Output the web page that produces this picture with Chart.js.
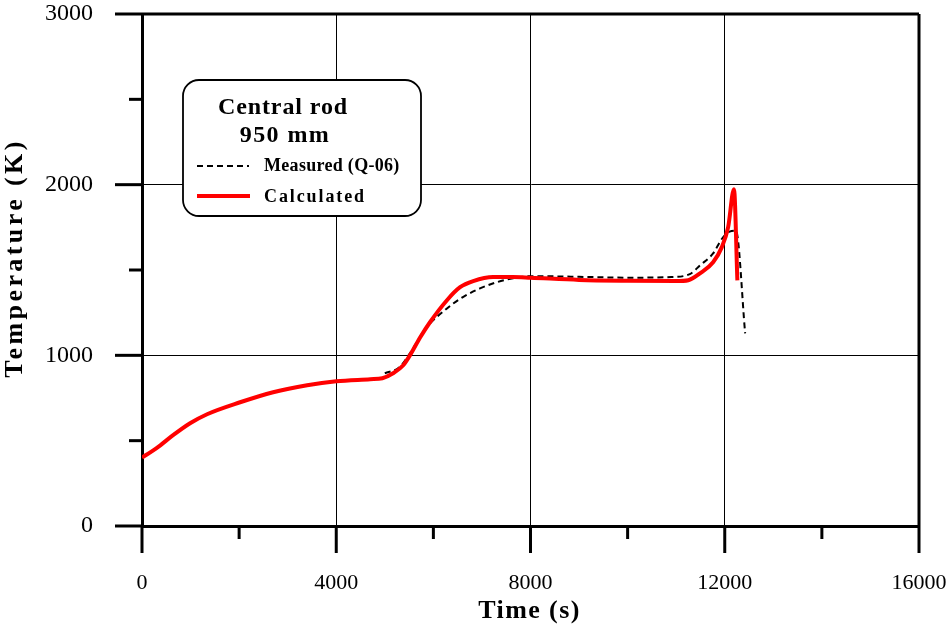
<!DOCTYPE html>
<html>
<head>
<meta charset="utf-8">
<title>Central rod 950 mm</title>
<script src="https://cdn.jsdelivr.net/npm/chart.js@4/dist/chart.umd.min.js"></script>
<style>
  body { margin: 0; background: #fff; }
  #wrap { width: 946px; height: 628px; }
</style>
</head>
<body>
<div id="wrap"><canvas id="tempChart" width="946" height="628"></canvas></div>
<script>
// Datos
const calcTime = [0, 300, 640, 990, 1340, 2020, 2700, 3400, 4000, 4700, 4950, 5170, 5380, 5520, 5730, 5930, 6280, 6550, 6820, 7230, 7640, 8000, 9000, 10000, 11000, 11250, 11490, 11760, 11940, 12070, 12190, 12260];
const calcTemp = [401, 456, 532, 602, 655, 725, 784, 825, 848, 860, 866, 895, 942, 1001, 1106, 1194, 1323, 1399, 1435, 1459, 1459, 1455, 1442, 1437, 1435, 1440, 1480, 1545, 1634, 1751, 1973, 1439];

const measTime = [5000, 5300, 5500, 5850, 6280, 6600, 6960, 7300, 7640, 8050, 9000, 10000, 10900, 11280, 11490, 11760, 11950, 12100, 12230, 12420];
const measTemp = [895, 930, 1005, 1160, 1275, 1340, 1392, 1428, 1451, 1464, 1460, 1455, 1459, 1476, 1527, 1597, 1686, 1725, 1730, 1129];

const xTicks = [0, 4000, 8000, 12000, 16000];
const yTicks = [0, 1000, 2000, 3000];

const serif = "'Liberation Serif', 'Times New Roman', serif";

const toPoints = (xs, ys) => xs.map((x, i) => ({ x: x, y: ys[i] }));

// Marco, marcas de ejes, titulos y leyenda
const framePlugin = {
    id: 'frame',
    afterDraw(chart) {
        const ctx = chart.ctx;
        const { left, right, top, bottom } = chart.chartArea;
        const xs = chart.scales.x;
        const ys = chart.scales.y;

        ctx.save();
        ctx.strokeStyle = '#000';
        ctx.lineWidth = 3;
        ctx.lineCap = 'butt';

        // borde superior y derecho
        ctx.beginPath();
        ctx.moveTo(left, top);
        ctx.lineTo(right, top);
        ctx.moveTo(right, top);
        ctx.lineTo(right, bottom);
        ctx.stroke();

        // marcas del eje x
        for (let v = xs.min; v <= xs.max; v += 2000) {
            const px = xs.getPixelForValue(v);
            const len = v % 4000 === 0 ? 27 : 13;
            ctx.beginPath();
            ctx.moveTo(px, bottom);
            ctx.lineTo(px, bottom + len);
            ctx.stroke();
        }
        // marcas del eje y
        for (let v = ys.min; v <= ys.max; v += 500) {
            const py = ys.getPixelForValue(v);
            const len = v % 1000 === 0 ? 27 : 13;
            ctx.beginPath();
            ctx.moveTo(left, py);
            ctx.lineTo(left - len, py);
            ctx.stroke();
        }

        // titulos de ejes
        ctx.fillStyle = '#000';
        ctx.textAlign = 'center';
        ctx.textBaseline = 'middle';
        ctx.font = 'bold 26px ' + serif;
        ctx.letterSpacing = '1.4px';
        ctx.fillText('Time (s)', (left + right) / 2 - 1, 611);

        ctx.save();
        ctx.translate(15, (top + bottom) / 2 - 12);
        ctx.rotate(-Math.PI / 2);
        ctx.letterSpacing = '3.4px';
        ctx.fillText('Temperature (K)', 0, 0);
        ctx.restore();

        // leyenda
        const bx = 183, by = 80, bw = 238, bh = 136, r = 16;
        ctx.lineWidth = 1.8;
        ctx.fillStyle = '#fff';
        ctx.beginPath();
        ctx.roundRect(bx, by, bw, bh, r);
        ctx.fill();
        ctx.stroke();

        ctx.fillStyle = '#000';
        ctx.font = 'bold 24px ' + serif;
        ctx.letterSpacing = '0.9px';
        ctx.fillText('Central rod', 283, 108);
        ctx.letterSpacing = '1.4px';
        ctx.fillText('950 mm', 285, 136);

        const meas = chart.data.datasets[1];
        const calc = chart.data.datasets[0];

        ctx.beginPath();
        ctx.strokeStyle = meas.borderColor;
        ctx.lineWidth = meas.borderWidth;
        ctx.setLineDash(meas.borderDash);
        ctx.moveTo(197, 166);
        ctx.lineTo(249, 166);
        ctx.stroke();
        ctx.setLineDash([]);

        ctx.beginPath();
        ctx.strokeStyle = calc.borderColor;
        ctx.lineWidth = calc.borderWidth;
        ctx.moveTo(197, 196);
        ctx.lineTo(250, 196);
        ctx.stroke();

        ctx.textAlign = 'left';
        ctx.font = 'bold 18px ' + serif;
        ctx.letterSpacing = '0.3px';
        ctx.fillText(meas.label, 264, 166);
        ctx.letterSpacing = '1.9px';
        ctx.fillText(calc.label, 264, 197);

        ctx.restore();
    }
};

const ctxTemp = document.getElementById('tempChart').getContext('2d');
new Chart(ctxTemp, {
    type: 'line',
    data: {
        datasets: [{
            label: 'Calculated',
            data: toPoints(calcTime, calcTemp),
            borderColor: '#ff0000',
            borderWidth: 4,
            pointRadius: 0,
            cubicInterpolationMode: 'monotone',
            order: 0
        }, {
            label: 'Measured (Q-06)',
            data: toPoints(measTime, measTemp),
            borderColor: '#000000',
            borderWidth: 2,
            borderDash: [6, 4],
            pointRadius: 0,
            cubicInterpolationMode: 'monotone',
            order: 1
        }]
    },
    options: {
        responsive: false,
        animation: false,
        layout: { padding: { top: 14, right: 27, left: 0, bottom: 0 } },
        plugins: {
            legend: { display: false },
            tooltip: { enabled: false }
        },
        scales: {
            x: {
                type: 'linear',
                min: 0,
                max: 16000,
                afterFit(scale) {
                    scale.height = 102;
                    scale.paddingLeft = 0;
                    scale.paddingRight = 0;
                },
                afterBuildTicks(scale) {
                    scale.ticks = xTicks.map(v => ({ value: v }));
                },
                border: { display: true, color: '#000', width: 3 },
                grid: {
                    drawTicks: false,
                    color: '#000',
                    lineWidth: 1
                },
                ticks: {
                    autoSkip: false,
                    maxRotation: 0,
                    padding: 44,
                    color: '#000',
                    font: { family: serif, size: 22 },
                    callback: v => String(v)
                }
            },
            y: {
                type: 'linear',
                min: 0,
                max: 3000,
                afterFit(scale) {
                    scale.width = 142;
                    scale.paddingTop = 0;
                    scale.paddingBottom = 0;
                },
                afterBuildTicks(scale) {
                    scale.ticks = yTicks.map(v => ({ value: v }));
                },
                border: { display: true, color: '#000', width: 3 },
                grid: {
                    drawTicks: false,
                    color: '#000',
                    lineWidth: 1
                },
                ticks: {
                    autoSkip: false,
                    padding: 49,
                    color: '#000',
                    font: { family: serif, size: 24 },
                    callback: v => String(v)
                }
            }
        }
    },
    plugins: [framePlugin]
});
</script>
</body>
</html>
